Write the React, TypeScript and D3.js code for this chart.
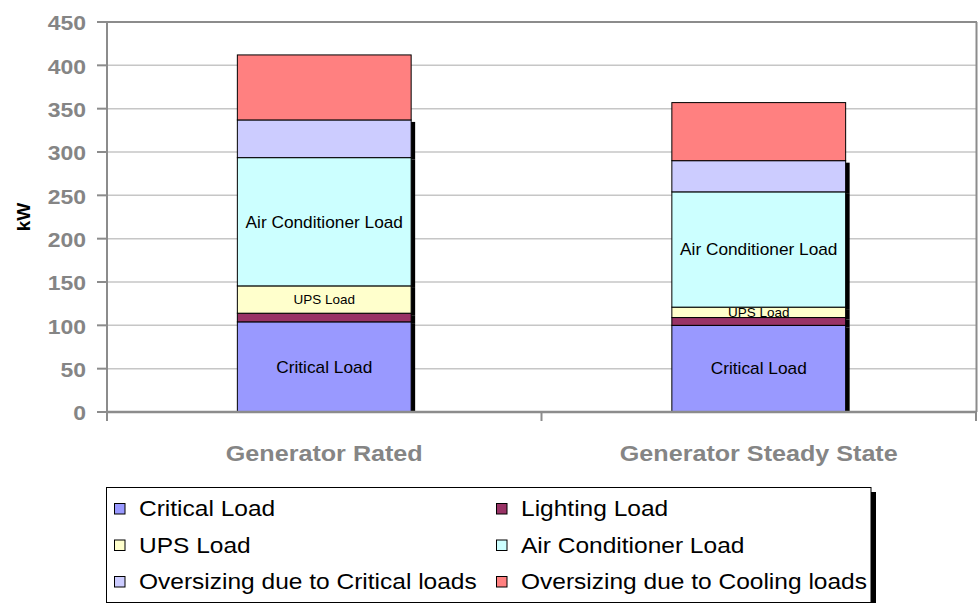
import * as d3 from "d3";

const categories = ["Generator Rated", "Generator Steady State"];
const seriesNames = [
  "Critical Load",
  "Lighting Load",
  "UPS Load",
  "Air Conditioner Load",
  "Oversizing due to Critical loads",
  "Oversizing due to Cooling loads",
];
const criticalLoad = [104, 100];
const lightingLoad = [10, 9];
const upsLoad = [31.5, 12];
const airConditionerLoad = [148, 133];
const oversizingCritical = [43.5, 36];
const oversizingCooling = [75, 67];
const yTicks = [0, 50, 100, 150, 200, 250, 300, 350, 400, 450];

const seriesColors = ["#9999FF", "#993366", "#FFFFCC", "#CCFFFF", "#CCCCFF", "#FF8080"];
// series that carry an in-bar label, and the label size
const labelSize: Record<string, number> = {
  "Critical Load": 16,
  "UPS Load": 12.5,
  "Air Conditioner Load": 16,
};
// the last series has no shadow in the original
const shadowed = [true, true, true, true, true, false];

const FONT = "'Liberation Sans', Arial, sans-serif";
const W = 979;
const H = 603;
const plot = { left: 107, right: 976, top: 22, bottom: 412 };

const rows = categories.map((c, i) => ({
  category: c,
  [seriesNames[0]]: criticalLoad[i],
  [seriesNames[1]]: lightingLoad[i],
  [seriesNames[2]]: upsLoad[i],
  [seriesNames[3]]: airConditionerLoad[i],
  [seriesNames[4]]: oversizingCritical[i],
  [seriesNames[5]]: oversizingCooling[i],
}));

// stretched text: the original's lettering is wider than Arial
const SText = ({ x, y, sx, children, ...rest }: any) => (
  <text transform={`translate(${x},${y}) scale(${sx},1)`} fontFamily={FONT} {...rest}>
    {children}
  </text>
);

const App = () => {
  const x = d3
    .scaleBand<string>()
    .domain(categories)
    .range([plot.left, plot.right])
    .paddingInner(0.6)
    .paddingOuter(0.3);
  const y = d3.scaleLinear().domain([0, 450]).range([plot.bottom, plot.top]);
  const stacked = d3.stack<any>().keys(seriesNames)(rows);
  const bw = x.bandwidth();
  const step = x.step();
  const catEdges = [plot.left, ...categories.map((c) => (x(c) as number) - step * 0.3 + step)];

  const gridTicks = yTicks.filter((t) => t > 0 && t < 450);

  return (
    <svg width={W} height={H} style={{ position: "absolute", left: 0, top: 0, background: "#fff" }}>
      <defs>
        <clipPath id="plotClip">
          <rect x={plot.left} y={0} width={plot.right - plot.left} height={plot.bottom - 1} />
        </clipPath>
        {stacked.map((s, si) =>
          s.map((d, ci) => (
            <clipPath id={`seg-${si}-${ci}`} key={`c${si}-${ci}`}>
              <rect x={x(categories[ci])} y={y(d[1])} width={bw} height={y(d[0]) - y(d[1])} />
            </clipPath>
          ))
        )}
      </defs>

      {/* gridlines */}
      {gridTicks.map((t) => (
        <line key={t} x1={plot.left} x2={plot.right} y1={y(t)} y2={y(t)} stroke="#c6c6c6" strokeWidth={1.5} />
      ))}
      {/* plot border top / right */}
      <line x1={plot.left} x2={plot.right + 1} y1={y(450)} y2={y(450)} stroke="#8c8c8c" strokeWidth={2} />
      <line x1={plot.right + 0.5} x2={plot.right + 0.5} y1={y(450)} y2={plot.bottom} stroke="#8c8c8c" strokeWidth={2} />

      {/* shadows */}
      <g clipPath="url(#plotClip)">
        {stacked.map((s, si) =>
          shadowed[si]
            ? s.map((d, ci) => (
                <rect
                  key={`sh${si}-${ci}`}
                  x={(x(categories[ci]) as number) + 4}
                  y={y(d[1]) + 2}
                  width={bw}
                  height={y(d[0]) - y(d[1])}
                  fill="#000"
                />
              ))
            : null
        )}
      </g>

      {/* bar segments */}
      {stacked.map((s, si) =>
        s.map((d, ci) => (
          <rect
            key={`b${si}-${ci}`}
            x={x(categories[ci])}
            y={y(d[1])}
            width={bw}
            height={y(d[0]) - y(d[1])}
            fill={seriesColors[si]}
            stroke="#000"
            strokeWidth={1}
          />
        ))
      )}

      {/* in-bar labels */}
      {stacked.map((s, si) =>
        labelSize[seriesNames[si]]
          ? s.map((d, ci) => (
              <g key={`l${si}-${ci}`} clipPath={`url(#seg-${si}-${ci})`}>
                <SText
                  x={(x(categories[ci]) as number) + bw / 2}
                  y={(y(d[0]) + y(d[1])) / 2}
                  sx={1.08}
                  dy="0.36em"
                  textAnchor="middle"
                  fontSize={labelSize[seriesNames[si]]}
                  fill="#000"
                >
                  {seriesNames[si]}
                </SText>
              </g>
            ))
          : null
      )}

      {/* y axis */}
      <line x1={plot.left} x2={plot.left} y1={plot.top} y2={plot.bottom + 9} stroke="#8c8c8c" strokeWidth={2} />
      {yTicks.map((t) => (
        <g key={`yt${t}`}>
          <line x1={plot.left - 10} x2={plot.left} y1={y(t)} y2={y(t)} stroke="#8c8c8c" strokeWidth={2} />
          <SText
            x={plot.left - 21}
            y={y(t) + 1}
            sx={1.12}
            dy="0.36em"
            textAnchor="end"
            fontSize={20.5}
            fontWeight="bold"
            fill="#858585"
          >
            {t}
          </SText>
        </g>
      ))}
      <text
        transform={`translate(23,${(plot.top + plot.bottom) / 2}) rotate(-90)`}
        textAnchor="middle"
        dy="0.36em"
        fontFamily={FONT}
        fontSize={19}
        fontWeight="bold"
        fill="#000"
      >
        kW
      </text>

      {/* x axis */}
      <line x1={plot.left - 1} x2={plot.right + 1} y1={plot.bottom} y2={plot.bottom} stroke="#8c8c8c" strokeWidth={2.5} />
      {catEdges.map((e, i) => (
        <line key={`xt${i}`} x1={e} x2={e} y1={plot.bottom} y2={plot.bottom + 9} stroke="#8c8c8c" strokeWidth={2} />
      ))}
      {categories.map((c) => (
        <SText
          key={c}
          x={(x(c) as number) + bw / 2}
          y={460.5}
          sx={1.17}
          textAnchor="middle"
          fontSize={21.5}
          fontWeight="bold"
          fill="#858585"
        >
          {c}
        </SText>
      ))}

      {/* legend */}
      <rect x={871} y={492} width={5} height={H - 492} fill="#000" />
      <rect x={106.5} y={487.5} width={764.5} height={115} fill="#fff" stroke="#000" strokeWidth={1} />
      {seriesNames.map((n, i) => {
        const col = i % 2;
        const row = Math.floor(i / 2);
        const cy = 508.5 + row * 36.5;
        const sqx = col === 0 ? 114 : 496;
        return (
          <g key={n}>
            <rect x={sqx + 0.5} y={cy - 5} width={10.5} height={10.5} fill={seriesColors[i]} stroke="#000" strokeWidth={1} />
            <SText x={sqx + 25} y={cy + 7.5} sx={1.14} fontSize={21.5} fill="#000">
              {n}
            </SText>
          </g>
        );
      })}
    </svg>
  );
};

export default App;
